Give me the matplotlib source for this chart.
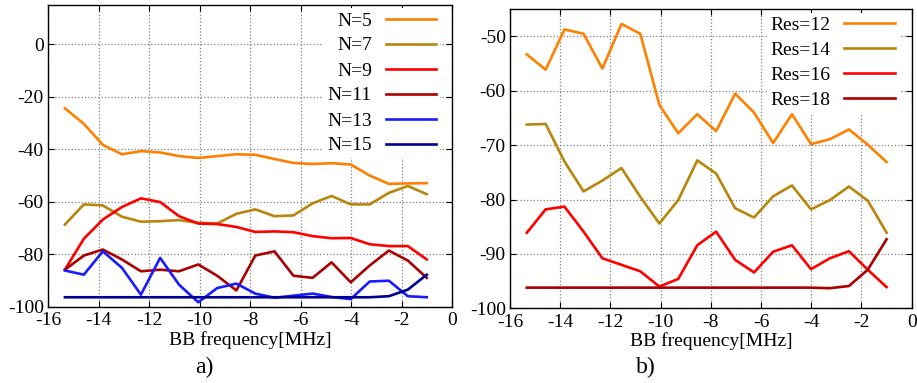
import numpy as np
import matplotlib
matplotlib.use("Agg")
import matplotlib.pyplot as plt

plt.rcParams['font.family'] = ['Liberation Serif', 'DejaVu Serif']
plt.rcParams['font.size'] = 14
plt.rcParams['axes.unicode_minus'] = False

# BB frequency sample points [MHz]
freq = [-15.33, -14.58, -13.83, -13.07, -12.32, -11.56, -10.81, -10.05, -9.3, -8.54,
        -7.79, -7.03, -6.28, -5.52, -4.77, -4.01, -3.26, -2.5, -1.75, -1.0]

# panel a)
n5 = [-24.4, -30.3, -38.3, -41.9, -40.7, -41.2, -42.6, -43.3, -42.6, -41.9,
      -42.1, -43.7, -45.2, -45.6, -45.3, -45.8, -50.0, -53.2, -53.0, -52.9]
n7 = [-68.7, -61.0, -61.4, -65.7, -67.6, -67.4, -67.0, -68.0, -68.3, -64.6,
      -62.9, -65.5, -65.2, -60.6, -57.8, -61.0, -61.0, -56.6, -54.0, -57.1]
n9 = [-85.9, -74.1, -66.8, -62.0, -58.7, -60.1, -65.5, -68.3, -68.5, -69.6,
      -71.5, -71.3, -71.6, -73.1, -73.9, -73.8, -76.2, -76.9, -76.9, -82.0]
n11 = [-85.9, -80.5, -78.2, -82.0, -86.5, -85.9, -86.5, -83.9, -88.2, -93.8,
       -80.5, -78.9, -88.2, -89.0, -83.1, -90.7, -84.3, -78.6, -82.4, -89.0]
n13 = [-86.2, -87.8, -78.9, -85.2, -95.4, -81.4, -91.6, -98.3, -92.9, -91.2,
       -95.0, -96.6, -95.8, -95.0, -96.3, -97.1, -90.4, -90.1, -96.0, -96.4]
n15 = [-96.4, -96.4, -96.4, -96.4, -96.4, -96.4, -96.4, -96.4, -96.4, -96.4,
       -96.4, -96.4, -96.4, -96.4, -96.4, -96.4, -96.4, -96.0, -93.5, -87.8]
labels_a = ['N=5', 'N=7', 'N=9', 'N=11', 'N=13', 'N=15']

# panel b)
res12 = [-53.3, -56.1, -48.7, -49.5, -55.9, -47.7, -49.5, -62.6, -67.8, -64.3,
         -67.4, -60.5, -64.0, -69.6, -64.3, -69.8, -68.9, -67.1, -69.9, -73.1]
res14 = [-66.2, -66.1, -73.0, -78.5, -76.5, -74.2, -79.5, -84.4, -80.1, -72.8,
         -75.2, -81.6, -83.3, -79.4, -77.4, -81.8, -80.1, -77.6, -80.2, -86.1]
res16 = [-86.1, -81.8, -81.3, -85.9, -90.8, -92.0, -93.2, -96.0, -94.6, -88.4,
         -85.9, -91.1, -93.4, -89.6, -88.4, -92.8, -90.8, -89.5, -92.9, -96.1]
res18 = [-96.2, -96.2, -96.2, -96.2, -96.2, -96.2, -96.2, -96.2, -96.2, -96.2,
         -96.2, -96.2, -96.2, -96.2, -96.2, -96.2, -96.3, -95.9, -92.9, -87.3]
labels_b = ['Res=12', 'Res=14', 'Res=16', 'Res=18']

colors = ['#ff8000', '#b8860b', '#ff0000', '#aa0000', '#1a1aff', '#000090']

W, H = 917, 383
fig = plt.figure(figsize=(W / 100, H / 100), dpi=100)
ax1 = fig.add_axes([48 / W, 1 - 306.7 / H, 404 / W, 301.7 / H])
ax2 = fig.add_axes([510 / W, 1 - 308.3 / H, 401.7 / W, 299 / H])


def style(ax, ylim, ystep):
    ax.set_xlim(-16, 0)
    ax.set_ylim(*ylim)
    ax.set_xticks(np.arange(-16, 1, 2))
    ax.set_yticks(np.arange(-100, ylim[1] + 1, ystep))
    ax.grid(True, linestyle=':', color='#808080', linewidth=0.9)
    ax.tick_params(direction='in', top=True, right=True, length=4)
    ax.tick_params(axis='x', pad=4)
    ax.tick_params(axis='y', pad=3)
    for s in ax.spines.values():
        s.set_linewidth(1.0)
    ax.set_xlabel('BB frequency[MHz]', labelpad=1)


for ys, lab, c in zip([n5, n7, n9, n11, n13, n15], labels_a, colors):
    ax1.plot(freq, ys, color=c, lw=1.9, label=lab)
style(ax1, (-100, 15), 20)

for ys, lab, c in zip([res12, res14, res16, res18], labels_b, colors):
    ax2.plot(freq, ys, color=c, lw=1.9, label=lab)
style(ax2, (-100, -45), 10)

for ax, anchor in ((ax1, (1 - 12 / 404, 1 - 3 / 301.7)), (ax2, (1 - 13 / 401.7, 1 - 3.5 / 299))):
    leg = ax.legend(loc='upper right', bbox_to_anchor=anchor, markerfirst=False,
                    handlelength=2.6, labelspacing=0.38, borderaxespad=0,
                    handletextpad=0.7, fancybox=False, framealpha=1.0, borderpad=0.2)
    leg.get_frame().set_edgecolor('none')
    for t in leg.get_texts():
        t.set_ha('right')

fig.text(204 / W, 1 - 367 / H, 'a)', ha='center', va='center', fontsize=17)
fig.text(646 / W, 1 - 367 / H, 'b)', ha='center', va='center', fontsize=17)

fig.savefig('out.png', dpi=100)
